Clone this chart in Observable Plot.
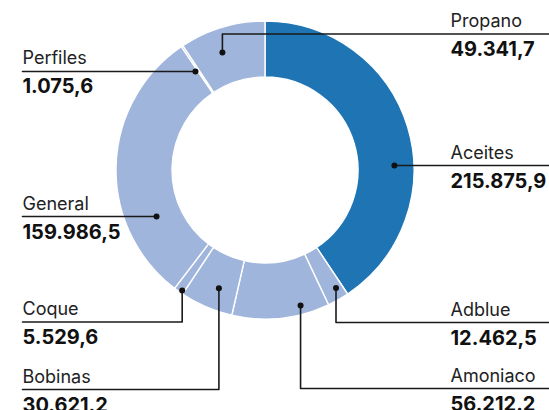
<!DOCTYPE html>
<html><head><meta charset="utf-8">
<script src="https://cdn.jsdelivr.net/npm/d3@7"></script>
<script src="https://cdn.jsdelivr.net/npm/@observablehq/plot@0.6"></script>
<style>
html,body{margin:0;padding:0;background:#fff;}
#chart{width:549px;height:410px;}
</style></head><body><div id="chart"></div>
<script>
// ---- data ----
const categories = ["Aceites","Adblue","Amoniaco","Bobinas","Coque","General","Perfiles","Propano"];
const values = [215875.9, 12462.5, 56212.2, 30621.2, 5529.6, 159986.5, 1075.6, 49341.7];
const valueLabels = ["215.875,9","12.462,5","56.212.2","30.621.2","5.529,6","159.986,5","1.075,6","49.341,7"];
const highlighted = ["Aceites"];

// ---- layout (pixel units relative to donut centre) ----
const R_OUT = 149, R_IN = 93;
const X_DOMAIN = [-265, 284], Y_DOMAIN = [-170, 240];
const RIGHT_TEXT_X = 185, RIGHT_END_X = 284, LEFT_X = -243;
// anchor: position inside the slice (fraction of its angle) and radius; elbow: y of the horizontal leader (null = straight)
const anchorFrac = {Aceites:0.60, Adblue:0.32, Amoniaco:0.28, Bobinas:0.42, Coque:0.31, General:0.274, Perfiles:-1.53, Propano:0.40};
const anchorR    = {Aceites:129, Adblue:137, Amoniaco:139.5, Bobinas:126.6, Coque:146, General:118.3, Perfiles:121.3, Propano:125.6};
const elbowY     = {Aceites:null, Adblue:152, Amoniaco:218, Bobinas:219, Coque:151.5, General:null, Perfiles:null, Propano:-136.5};
const side       = {Aceites:"right", Adblue:"right", Amoniaco:"right", Bobinas:"left", Coque:"left", General:"left", Perfiles:"left", Propano:"right"};

const DARK = "#1f74b4", LIGHT = "#a0b5db";

const table = categories.map((c, i) => ({category: c, value: values[i], label: valueLabels[i]}));
const arcs = d3.pie().sort(null).value(d => d.value).startAngle(0).endAngle(2 * Math.PI)(table);

const anchors = arcs.map(a => {
  const c = a.data.category;
  const ang = a.startAngle + anchorFrac[c] * (a.endAngle - a.startAngle);
  const x = anchorR[c] * Math.sin(ang), y = -anchorR[c] * Math.cos(ang);
  const L = elbowY[c] == null ? y : elbowY[c];
  return {category: c, label: a.data.label, x, y, L, side: side[c],
          tx: side[c] === "right" ? RIGHT_TEXT_X : LEFT_X,
          ex: side[c] === "right" ? RIGHT_END_X : LEFT_X};
});

const leaderPts = anchors.flatMap(d => {
  const pts = [{category: d.category, x: d.x, y: d.y}];
  if (Math.abs(d.L - d.y) > 0.01) pts.push({category: d.category, x: d.x, y: d.L});
  pts.push({category: d.category, x: d.ex, y: d.L});
  return pts;
});

function donut(index, scales, vals, dimensions, context) {
  const cx = scales.x(0), cy = scales.y(0);
  const k = scales.x(1) - scales.x(0);
  const arc = d3.arc().innerRadius(R_IN * k).outerRadius(R_OUT * k);
  const g = d3.create("svg:g").attr("transform", `translate(${cx},${cy})`);
  g.selectAll("path").data(arcs).join("path")
    .attr("d", arc)
    .attr("fill", d => highlighted.includes(d.data.category) ? DARK : LIGHT)
    .attr("stroke", "#fff").attr("stroke-width", 1.4).attr("stroke-linejoin", "round");
  return g.node();
}

const chart = Plot.plot({
  width: 549, height: 410, margin: 0,
  style: {fontFamily: "Inter, sans-serif", background: "#fff"},
  x: {domain: X_DOMAIN, range: [0, 549], axis: null},
  y: {domain: Y_DOMAIN, range: [0, 410], axis: null},
  marks: [
    donut,
    Plot.line(leaderPts, {x: "x", y: "y", z: "category", stroke: "#1a1a1a", strokeWidth: 1.6, curve: "linear"}),
    Plot.dot(anchors, {x: "x", y: "y", r: 3, fill: "#111", stroke: "none"}),
    Plot.text(anchors, {x: "tx", y: "L", text: "category", textAnchor: "start", lineAnchor: "bottom", dy: -7, fontSize: 18, fill: "#222"}),
    Plot.text(anchors, {x: "tx", y: "L", text: "label", textAnchor: "start", lineAnchor: "bottom", dy: 22, fontSize: 20, fontWeight: "bold", fill: "#111"})
  ]
});
document.getElementById("chart").append(chart);
</script></body></html>
